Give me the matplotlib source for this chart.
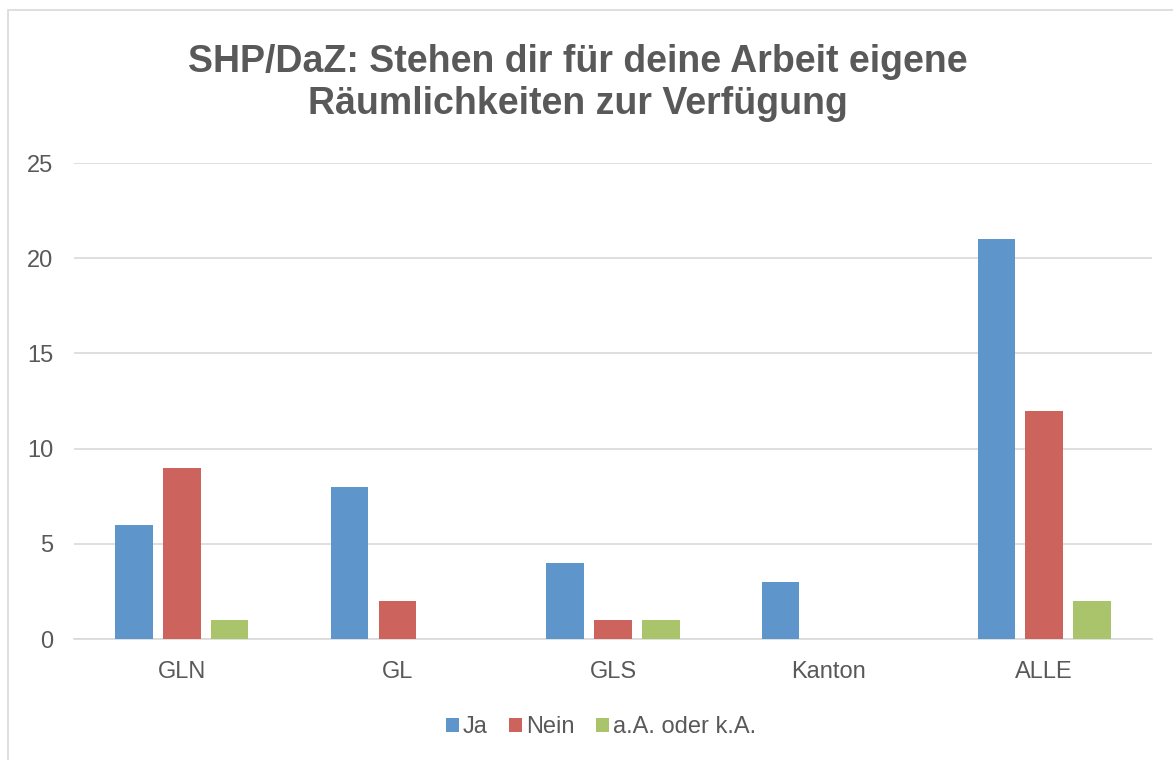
import numpy as np
import matplotlib.pyplot as plt
from matplotlib.patches import Rectangle

categories = ["GLN", "GL", "GLS", "Kanton", "ALLE"]
ja = [6, 8, 4, 3, 21]
nein = [9, 2, 1, 0, 12]
ak = [1, 0, 1, 0, 2]
series_names = ["Ja", "Nein", "a.A. oder k.A."]
colors = ["#5E95CB", "#CC645D", "#A9C46B"]

plt.rcParams["font.family"] = ["Liberation Sans", "DejaVu Sans"]

fig = plt.figure(figsize=(11.73, 7.6), dpi=100)
fig.patches.append(Rectangle((8 / 1173, -0.05), 1.1, 1 - 10 / 760 + 0.05,
                             transform=fig.transFigure, fill=False,
                             edgecolor="#D9D9D9", linewidth=1.2))

ax = fig.add_axes([74 / 1173, 1 - 639 / 760, (1152 - 74) / 1173, (639 - 163) / 760])

x = np.arange(len(categories))
width = 0.174
step = 0.222
for i, (vals, name, c) in enumerate(zip([ja, nein, ak], series_names, colors)):
    ax.bar(x + (i - 1) * step, vals, width, color=c, label=name, zorder=3)

ax.set_xlim(-0.5, len(categories) - 0.5)
ax.set_ylim(0, 25)
ax.set_yticks(range(0, 26, 5))
ax.set_xticks(x)
ax.set_xticklabels(categories)
ax.grid(axis="y", color="#D9D9D9", linewidth=1.2, zorder=0)
for s in ["top", "right", "left"]:
    ax.spines[s].set_visible(False)
ax.spines["bottom"].set_color("#D9D9D9")
ax.spines["bottom"].set_linewidth(1.2)
ax.tick_params(axis="both", length=0, labelsize=17, colors="#595959")
ax.tick_params(axis="y", pad=15)
ax.tick_params(axis="x", pad=16)

fig.text(578 / 1173, 1 - 83 / 760,
         "SHP/DaZ: Stehen dir für deine Arbeit eigene\nRäumlichkeiten zur Verfügung",
         ha="center", va="center", fontsize=27, fontweight="bold",
         color="#595959", linespacing=1.22)

fig.legend(loc="center", bbox_to_anchor=(601 / 1173, 1 - 727 / 760), ncol=3,
           frameon=False, fontsize=17, labelcolor="#595959",
           handlelength=0.55, handleheight=0.55, handletextpad=0.15,
           columnspacing=0.93)

fig.savefig("out.png", dpi=100, facecolor="white")
